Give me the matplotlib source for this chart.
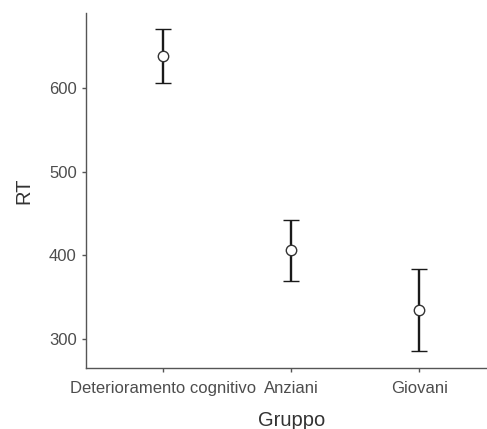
import matplotlib.pyplot as plt
import numpy as np

plt.rcParams['font.family'] = ['Liberation Sans', 'DejaVu Sans']

gruppi = ['Deterioramento cognitivo', 'Anziani', 'Giovani']
rt_medio = [638.8, 406.3, 334.9]
ci_basso = [606.7, 369.4, 285.7]
ci_alto = [671.4, 442.4, 383.7]

fig = plt.figure(figsize=(4.87, 4.29), dpi=100)
ax = fig.add_axes([0.1776, 0.1415, 0.8405, 0.8282])

x = np.arange(len(gruppi))
media = np.array(rt_medio)
err = [media - np.array(ci_basso), np.array(ci_alto) - media]
ax.errorbar(x, media, yerr=err, fmt='o', color='#1a1a1a', ecolor='#1a1a1a',
            elinewidth=1.7, capsize=6, capthick=1.7,
            markerfacecolor='white', markeredgecolor='#333333',
            markeredgewidth=1.0, markersize=7.5)

ax.set_xlim(-0.6, 2.6)
ax.set_ylim(265, 690)
ax.set_xticks(x)
ax.set_xticklabels(gruppi)
ax.set_yticks([300, 400, 500, 600])

for s in ['top', 'right']:
    ax.spines[s].set_visible(False)
for s in ['left', 'bottom']:
    ax.spines[s].set_color('#555555')
    ax.spines[s].set_linewidth(1.0)
ax.tick_params(colors='#555555', labelcolor='#4d4d4d', labelsize=12,
               length=3, width=1.0)
ax.tick_params(axis='x', pad=6)
ax.tick_params(axis='y', pad=4)

ax.set_xlabel('Gruppo', fontsize=14.5, color='#333333', labelpad=11)
ax.set_ylabel('RT', fontsize=14.5, color='#333333', labelpad=11)

fig.savefig('out.png', dpi=100)
